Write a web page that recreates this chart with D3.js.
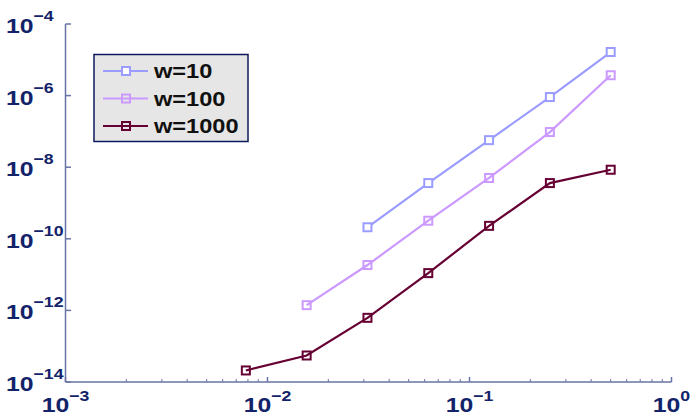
<!DOCTYPE html>
<html>
<head>
<meta charset="utf-8">
<script src="https://cdn.jsdelivr.net/npm/d3@7"></script>
<style>
  body { margin: 0; background: #fff; }
  svg { display: block; font-family: Arial, "Liberation Sans", sans-serif; }
</style>
</head>
<body>
<svg width="690" height="416"></svg>
<script>
// data (x = step size, y = error)
const xs = [1/128, 1/64, 1/32, 1/16, 1/8, 1/4, 1/2];
const w10 = [null, null, 2.1e-10, 3.6e-9, 5.7e-8, 9.1e-7, 1.65e-5];
const w100 = [null, 1.4e-12, 1.85e-11, 3.2e-10, 5.0e-9, 9.6e-8, 3.7e-6];
const w1000 = [2.1e-14, 5.5e-14, 6.2e-13, 1.1e-11, 2.3e-10, 3.6e-9, 8.5e-9];
const seriesNames = ["w=10", "w=100", "w=1000"];
const seriesColors = ["#9b9cff", "#cc99ff", "#660033"];
const xTickExps = [-3, -2, -1, 0];
const yTickExps = [-14, -12, -10, -8, -6, -4];

const series = [w10, w100, w1000];
const axisColor = "#6874a4";
const textColor = "#13236a";
const stretch = 1.18; // reference glyphs are wider than Arial

const svg = d3.select("svg");

const x = d3.scaleLog().domain([1e-3, 1]).range([65.5, 671.5]);
const y = d3.scaleLog().domain([1e-14, 1e-4]).range([382, 24]);

// x axis with minor ticks pointing up
const xMinor = [];
for (let e = -3; e < 0; e++) for (let k = 2; k <= 9; k++) xMinor.push(k * Math.pow(10, e));

const gx = svg.append("g").attr("transform", "translate(0,382)");
gx.append("line").attr("x1", x.range()[0]).attr("x2", x.range()[1])
  .attr("stroke", axisColor).attr("stroke-width", 1.5);
gx.selectAll(".minor").data(xMinor).enter().append("line")
  .attr("x1", d => x(d)).attr("x2", d => x(d)).attr("y1", 0).attr("y2", -3)
  .attr("stroke", axisColor).attr("stroke-width", 1);
gx.selectAll(".major").data(xTickExps).enter().append("line")
  .attr("x1", d => x(Math.pow(10, d))).attr("x2", d => x(Math.pow(10, d)))
  .attr("y1", 0).attr("y2", -5).attr("stroke", axisColor).attr("stroke-width", 1.5);

const xl = svg.selectAll(".xlab").data(xTickExps).enter().append("g")
  .attr("transform", d => `translate(${x(Math.pow(10, d))},411.5) scale(${stretch},1)`)
  .append("text")
  .attr("text-anchor", "middle").attr("fill", textColor).attr("font-weight", "bold");
xl.append("tspan").attr("font-size", 21).text("10");
xl.append("tspan").attr("font-size", 15).attr("dy", -11).text(d => d < 0 ? "\u2212" + (-d) : d);

// y axis, ticks only at labelled decades
const gy = svg.append("g");
gy.append("line").attr("x1", 65.5).attr("x2", 65.5).attr("y1", y.range()[0]).attr("y2", y.range()[1])
  .attr("stroke", axisColor).attr("stroke-width", 1.5);
gy.selectAll(".tick").data(yTickExps).enter().append("line")
  .attr("x1", 65.5).attr("x2", 71).attr("y1", d => y(Math.pow(10, d))).attr("y2", d => y(Math.pow(10, d)))
  .attr("stroke", axisColor).attr("stroke-width", 1.5);

const yl = svg.selectAll(".ylab").data(yTickExps).enter().append("g")
  .attr("transform", d => `translate(6,${y(Math.pow(10, d)) + 9}) scale(${stretch},1)`)
  .append("text")
  .attr("fill", textColor).attr("font-weight", "bold");
yl.append("tspan").attr("font-size", 21).text("10");
yl.append("tspan").attr("font-size", 15).attr("dy", -12).text(d => "\u2212" + (-d));

// lines and markers
const line = d3.line()
  .x(d => x(d[0])).y(d => y(d[1]));

series.forEach((s, i) => {
  const pts = xs.map((v, j) => [v, s[j]]).filter(d => d[1] != null);
  svg.append("path").datum(pts).attr("d", line)
    .attr("fill", "none").attr("stroke", seriesColors[i]).attr("stroke-width", 2.2);
  svg.selectAll(".m" + i).data(pts).enter().append("rect")
    .attr("x", d => x(d[0]) - 4).attr("y", d => y(d[1]) - 4)
    .attr("width", 8).attr("height", 8)
    .attr("fill", i === 0 ? "#fff" : "none")
    .attr("stroke", seriesColors[i]).attr("stroke-width", 2);
});

// legend
const lg = svg.append("g");
lg.append("rect").attr("x", 94).attr("y", 54.5).attr("width", 154).attr("height", 87)
  .attr("fill", "#e6e6e6").attr("stroke", "#0c1a5c").attr("stroke-width", 1.5);
const rowY = [71, 98.5, 126];
seriesNames.forEach((name, i) => {
  lg.append("line").attr("x1", 103).attr("x2", 148).attr("y1", rowY[i]).attr("y2", rowY[i])
    .attr("stroke", seriesColors[i]).attr("stroke-width", 2.2);
  lg.append("rect").attr("x", 122).attr("y", rowY[i] - 4).attr("width", 8).attr("height", 8)
    .attr("fill", i === 0 ? "#fff" : "none").attr("stroke", seriesColors[i]).attr("stroke-width", 2);
  lg.append("g").attr("transform", `translate(154,${rowY[i] + 7}) scale(${stretch},1)`)
    .append("text")
    .attr("font-size", 20).attr("font-weight", "bold").attr("fill", "#111")
    .text(name);
});
</script>
</body>
</html>
